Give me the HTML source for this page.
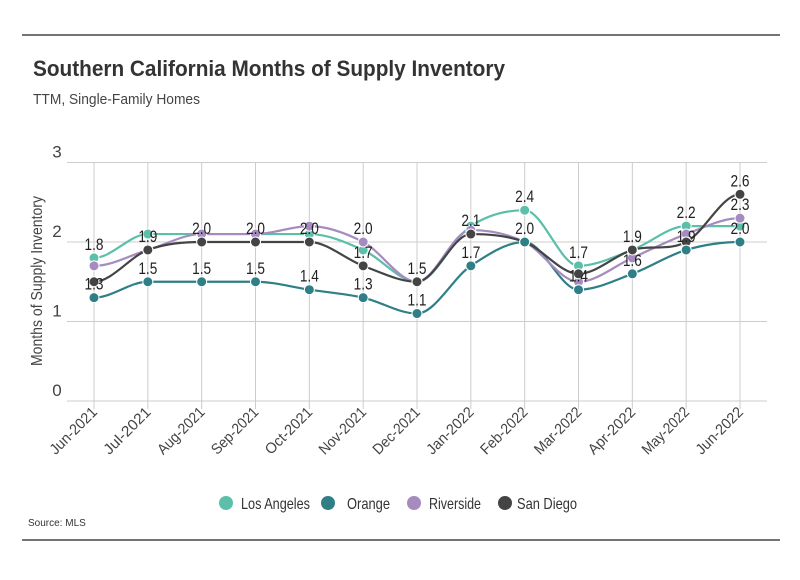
<!DOCTYPE html>
<html><head><meta charset="utf-8">
<style>
body{margin:0;background:#fff;}
svg text{font-family:"Liberation Sans Narrow","Liberation Sans",sans-serif;}
</style></head>
<body>
<svg id="c" width="800" height="575" xmlns="http://www.w3.org/2000/svg">
<line x1="22" y1="35" x2="780" y2="35" stroke="#222" stroke-width="1.2"/>
<text x="33" y="76" font-size="22" font-weight="bold" fill="#333" textLength="472" lengthAdjust="spacingAndGlyphs">Southern California Months of Supply Inventory</text>
<text x="33" y="104" font-size="15" fill="#444" textLength="167" lengthAdjust="spacingAndGlyphs">TTM, Single-Family Homes</text>
<text transform="translate(42,281) rotate(-90)" text-anchor="middle" font-size="16" fill="#444" textLength="170" lengthAdjust="spacingAndGlyphs">Months of Supply Inventory</text>
<g id="grid"></g><g id="series"></g><g id="labels"></g><g id="xlabels"></g>
<g id="legend"></g>
<text x="28" y="526" font-size="10" fill="#333">Source:  MLS</text>
<line x1="22" y1="540" x2="780" y2="540" stroke="#222" stroke-width="1.2"/>
</svg>
<script>
const categories=["Jun-2021","Jul-2021","Aug-2021","Sep-2021","Oct-2021","Nov-2021","Dec-2021","Jan-2022","Feb-2022","Mar-2022","Apr-2022","May-2022","Jun-2022"];
const seriesNames=["Los Angeles","Orange","Riverside","San Diego"];
const seriesColors=["#5bbfa9","#2e7f86","#a58bbf","#444444"];
const laValues=[1.8,2.1,2.1,2.1,2.1,1.9,1.5,2.2,2.4,1.7,1.9,2.2,2.2];
const orangeValues=[1.3,1.5,1.5,1.5,1.4,1.3,1.1,1.7,2.0,1.4,1.6,1.9,2.0];
const riversideValues=[1.7,1.9,2.1,2.1,2.2,2.0,1.5,2.15,2.0,1.5,1.8,2.1,2.3];
const sdValues=[1.5,1.9,2.0,2.0,2.0,1.7,1.5,2.1,2.0,1.6,1.9,2.0,2.6];
const yTicks=[0,1,2,3];
const labelSeries=[[0,1],[3,1],[3,1],[3,1],[3,1],[2,3,1],[3,1],[3,1],[0,3],[0,1],[3,1],[0,1],[3,2,1]];
const allValues=[laValues,orangeValues,riversideValues,sdValues];
const NS="http://www.w3.org/2000/svg";
const x0=94,x1=740,yBase=401,yUnit=79.5;
const xs=i=>x0+(x1-x0)*i/(categories.length-1);
const ys=v=>yBase-v*yUnit;
function mk(tag,attrs,parent,text){const e=document.createElementNS(NS,tag);for(const k in attrs)e.setAttribute(k,attrs[k]);if(text!==undefined)e.textContent=text;document.getElementById(parent).appendChild(e);return e;}
yTicks.forEach(t=>{
  const l=mk('line',{x1:67,x2:767,y1:ys(t),y2:ys(t),stroke:'#ccc','stroke-width':1},'grid');
  
  
  const tx=mk('text',{x:57,y:ys(t)-5,'font-size':17,fill:'#444','text-anchor':'middle'},'grid',String(t));
  
  
});
categories.forEach((c,i)=>{
  const l=mk('line',{x1:xs(i),x2:xs(i),y1:ys(3),y2:ys(0)+8,stroke:'#ccc','stroke-width':1},'grid');
  
  
  const t=mk('text',{transform:`translate(${xs(i)+4},${ys(0)+12}) rotate(-45)`,'text-anchor':'end','font-size':15,fill:'#444',textLength:60,lengthAdjust:'spacingAndGlyphs'},'xlabels',c);
  
  
});
function smooth(pts){
  let d=`M${pts[0][0]},${pts[0][1]}`;
  const n=pts.length;
  const tang=pts.map((p,i)=>{
    if(i===0||i===n-1)return 0;
    const a=pts[i-1],b=pts[i+1];
    const s0=(p[1]-a[1]),s1=(b[1]-p[1]);
    if(s0*s1<=0)return 0;
    return (s0+s1)/2;
  });
  for(let i=0;i<n-1;i++){
    const p=pts[i],q=pts[i+1],dx=(q[0]-p[0])/3;
    d+=` C${p[0]+dx},${p[1]+tang[i]/3} ${q[0]-dx},${q[1]-tang[i+1]/3} ${q[0]},${q[1]}`;
  }
  return d;
}
[0,1,2,3].forEach(s=>{
  const vals=allValues[s];
  const pts=vals.map((v,i)=>[xs(i),ys(v)]);
  const p=mk('path',{d:smooth(pts),fill:'none',stroke:seriesColors[s],'stroke-width':2.2},'series');
  
  
});
[0,2,3,1].forEach(s=>{
  allValues[s].forEach((v,i)=>{
    const c=mk('circle',{cx:xs(i),cy:ys(v),r:5,fill:seriesColors[s],stroke:'#fff','stroke-width':1},'series');
    
    
  });
});
labelSeries.forEach((arr,i)=>{
  arr.forEach(s=>{
    const v=allValues[s][i];
    const t=mk('text',{x:xs(i),y:ys(v)-8,'text-anchor':'middle','font-size':17,fill:'#222',textLength:19,lengthAdjust:'spacingAndGlyphs'},'labels',v.toFixed(1));
    
    
  });
});
const legendX=[226,328,414,505];
const legendTextX=[241,347,429,517];
const legendLen=[69,43,52,60];
seriesNames.forEach((n,s)=>{
  const c=mk('circle',{cx:legendX[s],cy:503,r:7,fill:seriesColors[s]},'legend');
  
  
  const t=mk('text',{x:legendTextX[s],y:509,'font-size':16,fill:'#333',textLength:legendLen[s],lengthAdjust:'spacingAndGlyphs'},'legend',n);
  
  
});
</script>
</body></html>
